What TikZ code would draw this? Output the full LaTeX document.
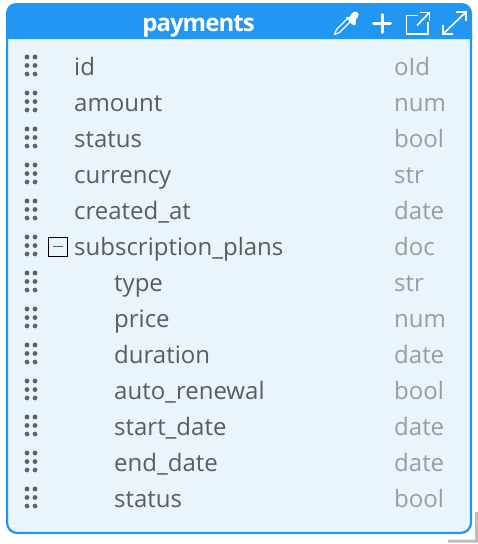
\documentclass[tikz,border=0pt]{standalone}
\usepackage{fontspec}
\setmainfont{Open Sans}
\newfontfamily\titlefont[LetterSpace=-4.0]{Open Sans}
\definecolor{cardblue}{HTML}{2196F3}
\definecolor{cardfill}{HTML}{E9F5FB}
\definecolor{fieldgray}{HTML}{5A5C5E}
\definecolor{typegray}{HTML}{9C9C9C}
\definecolor{gripgray}{HTML}{5F6265}
\definecolor{cornergray}{HTML}{BDBDBD}
\tikzset{
    fieldname/.style={anchor=base west, inner sep=0pt, text=fieldgray, font=\fontsize{24}{28}\selectfont},
    fieldtype/.style={anchor=base west, inner sep=0pt, text=typegray, font=\fontsize{24}{28}\selectfont},
    icon/.style={draw=white, line width=1.6pt},
}
\begin{document}
\begin{tikzpicture}[x=1pt, y=-1pt]
    \useasboundingbox (0,0) rectangle (478,544);
    % ---------- resize corner ----------
    \fill[cornergray] (448,539.5) -- (475,539.5) -- (475,512) -- (478,512) -- (478,542.5) -- (448,542.5) -- cycle;
    % ---------- card ----------
    \fill[cardfill, rounded corners=10pt] (7,20) -- (7,533) -- (471,533) -- (471,20) -- cycle;
    \fill[cardblue] (6,39) -- (6,13) arc[start angle=180, end angle=90, radius=10pt] -- (462,3) arc[start angle=90, end angle=0, radius=10pt] -- (472,39) -- cycle;
    \draw[cardblue, line width=2.2pt, rounded corners=10pt] (7.1,30) -- (7.1,532.9) -- (470.9,532.9) -- (470.9,30);
    % ---------- title ----------
    \node[anchor=base, inner sep=0pt, text=white, font=\titlefont\fontsize{24}{28}\selectfont\bfseries] (title) at (198.5,31) {payments};
    % ---------- dropper ----------
    \draw[icon, line width=1.2pt, line join=round] (348.5,17.5) -- (336.5,29.5) -- (334.5,34.5) -- (339.5,32.5) -- (351.5,20.5);
    \fill[white, rounded corners=1.5pt] (345,16.5) -- (349.5,18) -- (351,14) -- (355,11) -- (358.5,13) -- (358.5,16.5) -- (355,20) -- (356.5,24.5) -- (353,25.5) -- cycle;
    % ---------- plus ----------
    \draw[icon, line width=3pt, line cap=round] (373.5,23) -- (390.5,23);
    \draw[icon, line width=3pt, line cap=round] (382,14.5) -- (382,32.5);
    % ---------- open box ----------
    \draw[icon] (418,15.5) -- (406.5,15.5) -- (406.5,34) -- (428,34) -- (428,22);
    \draw[icon] (417,25.5) -- (429.5,12.5);
    \draw[icon] (420,12.5) -- (429.5,12.5) -- (429.5,21);
    % ---------- expand ----------
    \draw[icon] (443,34) -- (466,12);
    \draw[icon] (456,12) -- (466,12) -- (466,21);
    \draw[icon] (443,25) -- (443,34) -- (452.5,34);
    % ---------- collapse box ----------
    \node[draw=black, line width=1pt, minimum size=18.5pt, inner sep=0pt] (collapse) at (58,247) {};
    \draw[fieldgray, line width=1.2pt] ([xshift=-5pt,yshift=0.5pt]collapse.center) -- ([xshift=5pt,yshift=0.5pt]collapse.center);
    % ---------- fields ----------
    \foreach \name/\kind/\xname [count=\row from 0] in {
        id/oId/74, amount/num/74, status/bool/74, currency/str/74,
        created\_at/date/74, subscription\_plans/doc/74, type/str/114,
        price/num/114, duration/date/114, auto\_renewal/bool/114,
        start\_date/date/114, end\_date/date/114, status/bool/114} {
        \node[fieldname] (name\row) at (\xname,{75.5+36*\row}) {\name};
        \node[fieldtype] (kind\row) at (394,{75.5+36*\row}) {\kind};
        \foreach \dx in {27,35} \foreach \dy in {-8.5,0,8.5}
            \fill[gripgray] (\dx,{65.5+36*\row+\dy}) circle (2.4pt);
    }
\end{tikzpicture}
\end{document}
